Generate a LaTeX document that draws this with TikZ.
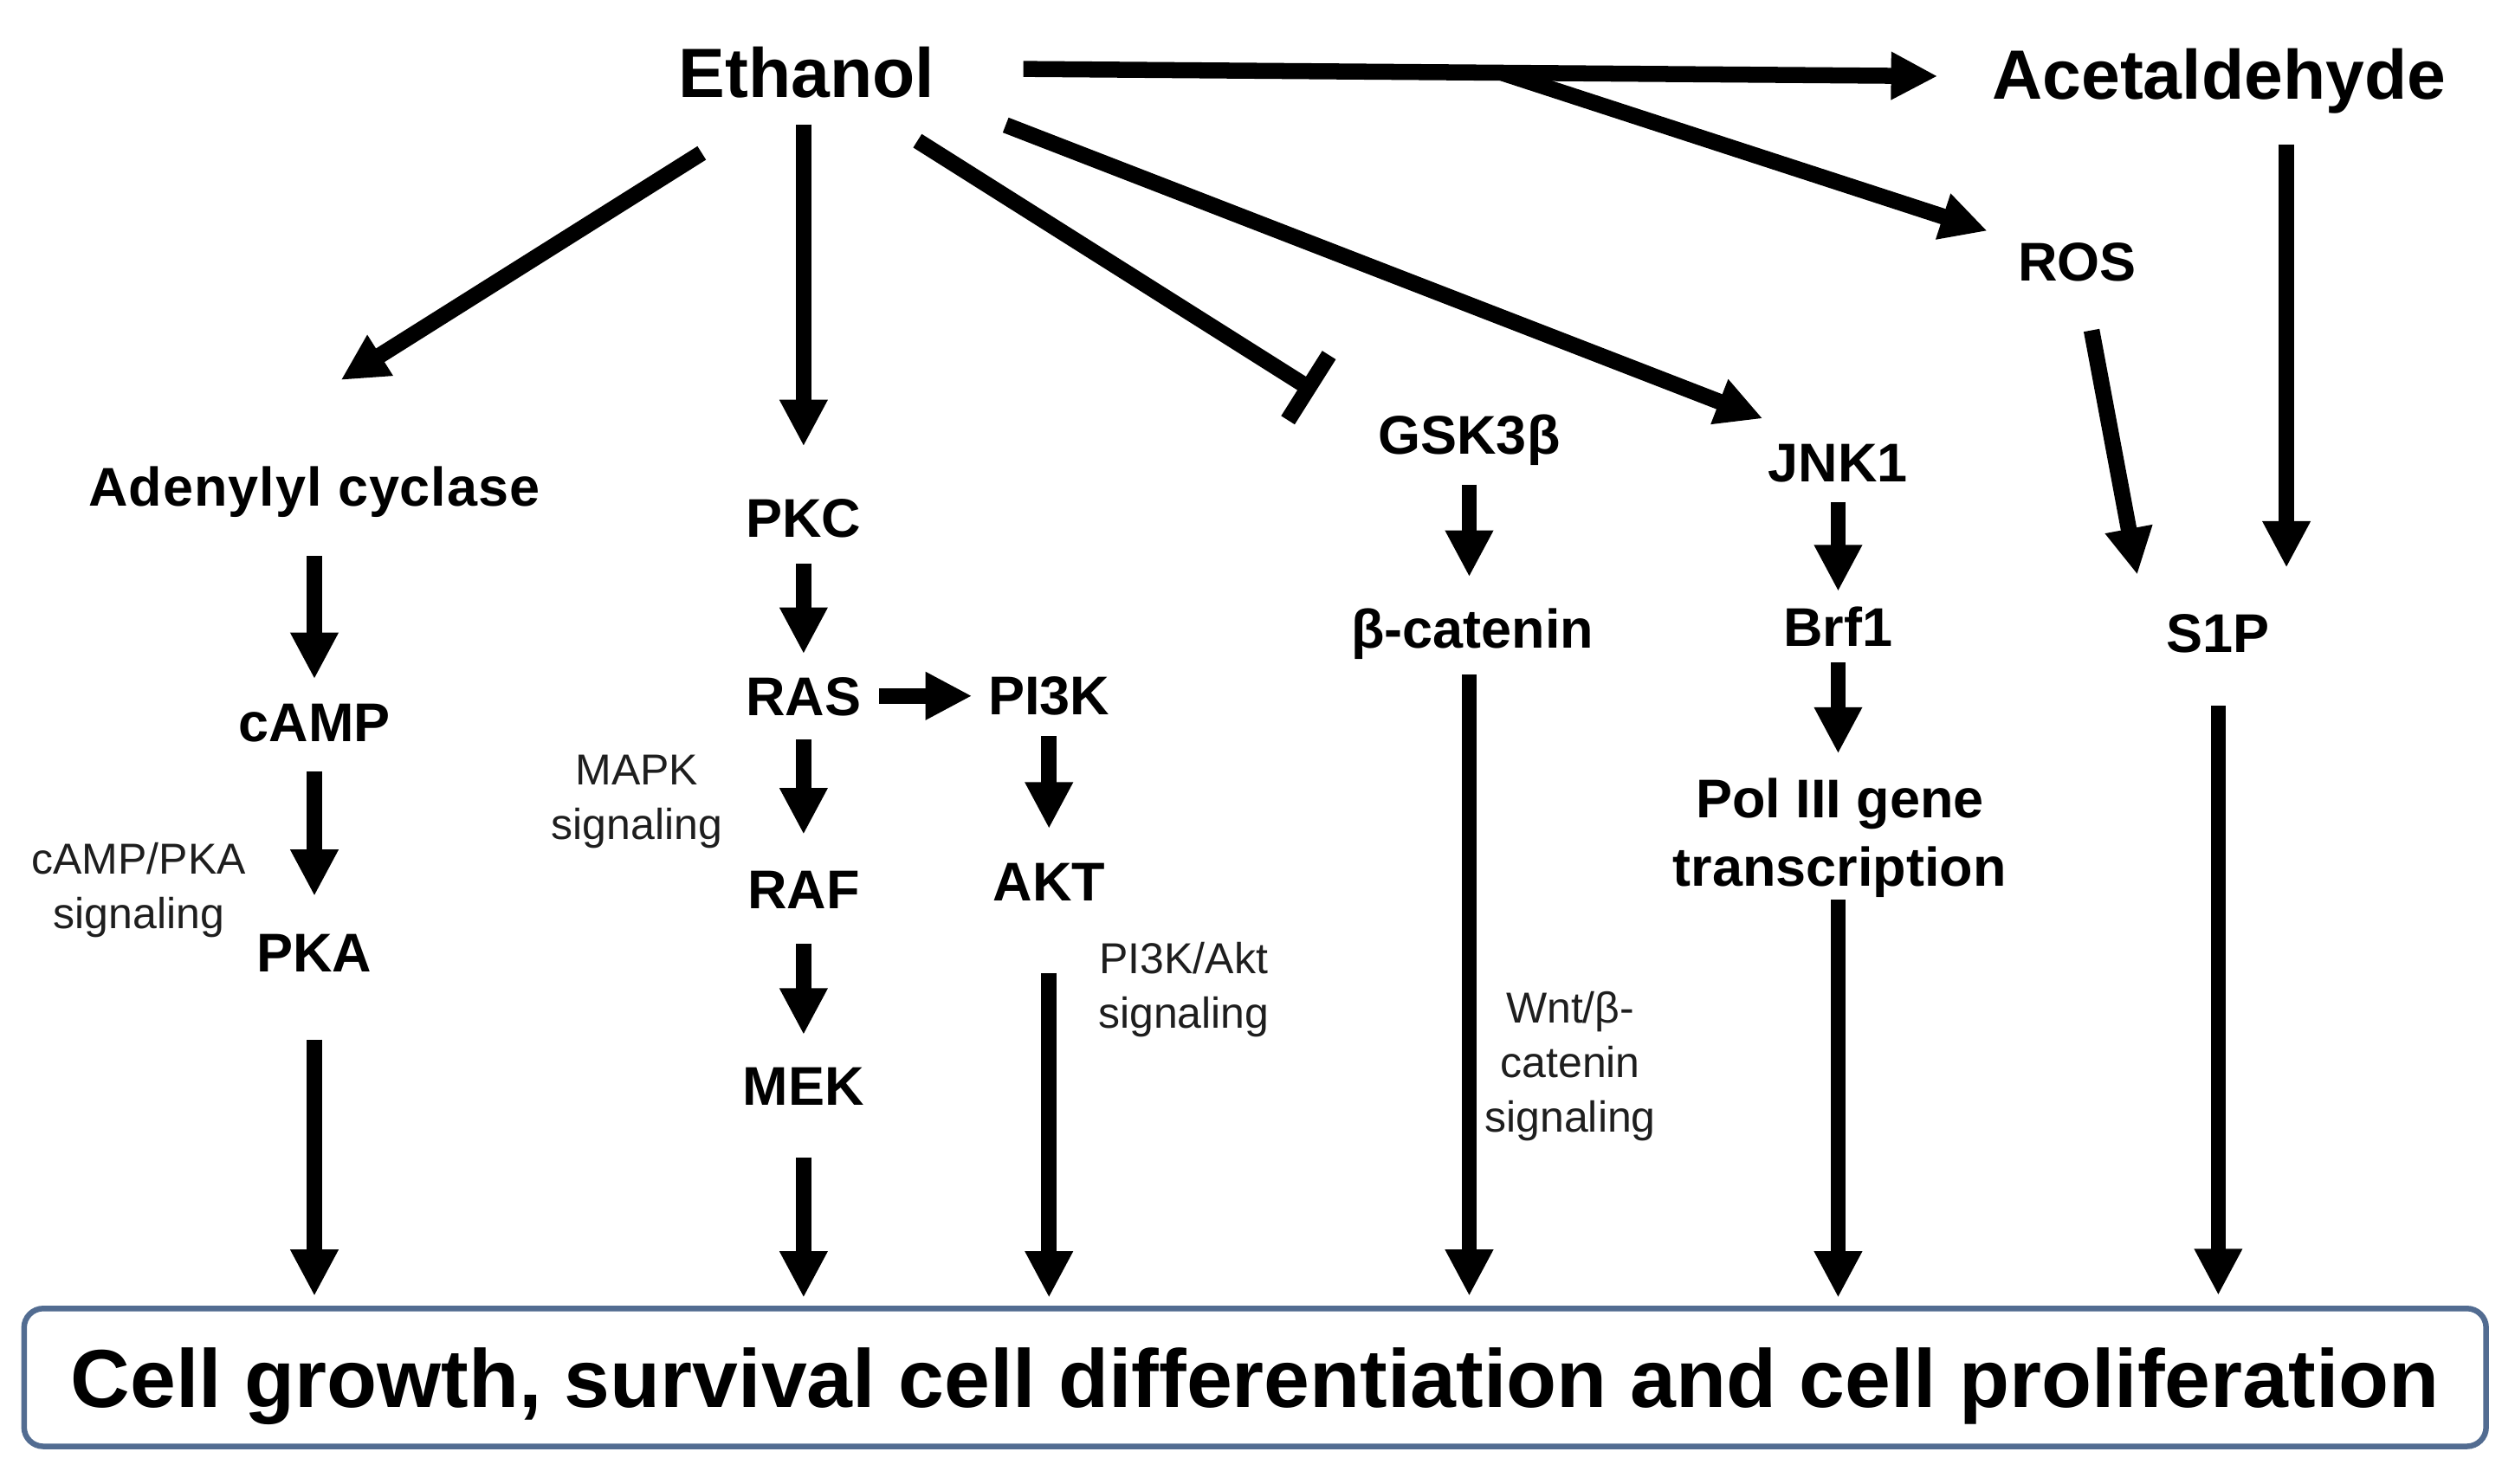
\documentclass[tikz,border=0pt]{standalone}
\usepackage{fontspec}
\setmainfont{Liberation Sans}
\usetikzlibrary{arrows.meta}
\definecolor{boxc}{RGB}{82,108,145}
\definecolor{sigc}{RGB}{30,30,30}
\begin{document}
\begin{tikzpicture}[x=1pt,y=-1pt,
  labfont/.style={font=\bfseries\fontsize{34}{43}\selectfont, inner sep=0pt},
  lab/.style={labfont, anchor=base, text height=24pt, text depth=0pt},
  bigl/.style={font=\bfseries\fontsize{43.5}{50}\selectfont, inner sep=0pt, anchor=base, text height=30pt, text depth=0pt},
  siglab/.style={font=\fontsize{27}{34}\selectfont, inner sep=0pt, anchor=north, align=center, text=sigc},
  arr/.style={line width=9.5pt, -{Triangle[width=28pt,length=29pt]}},
  darr/.style={line width=10pt, -{Triangle[width=28pt,length=29pt]}},
  inh/.style={line width=10pt, -{Bar[width=48pt]}}]
\useasboundingbox (0,0) rectangle (1568,925.4);
% main nodes
\node[bigl] (eth) at (503,61) {Ethanol};
\node[bigl] (acet) at (1383.5,62) {Acetaldehyde};
\node[lab] (ros) at (1295,175) {ROS};
\node[lab, font=\bfseries\fontsize{34}{43}\selectfont\addfontfeature{LetterSpace=1.5}] (adc) at (196,315.5) {Adenylyl cyclase};
\node[lab] (pkc) at (501,335.3) {PKC};
\node[lab] (gsk) at (916,283) {GSK3β};
\node[lab] (jnk) at (1146,300.7) {JNK1};
\node[lab] (camp) at (196,462.7) {cAMP};
\node[lab] (ras) at (501,446) {RAS};
\node[lab] (pi3k) at (654,445.5) {PI3K};
\node[lab] (bcat) at (918,404) {β-catenin};
\node[lab] (brf) at (1146,403) {Brf1};
\node[lab] (s1p) at (1383,407) {S1P};
\node[lab] (pka) at (196,606) {PKA};
\node[lab] (raf) at (501,566.6) {RAF};
\node[lab] (akt) at (654,562) {AKT};
\node[lab] (mek) at (501,689.5) {MEK};
\node[labfont, anchor=north, align=center] (pol) at (1147,485) {Pol III gene\\transcription};
% pathway labels
\node[siglab] (l1) at (86.5,525.4) {cAMP/PKA\\signaling};
\node[siglab] (l2) at (397,470.6) {MAPK\\signaling};
\node[siglab] (l3) at (738,587.3) {PI3K/Akt\\signaling};
\node[siglab] (l4) at (979,618.3) {Wnt/β-\\catenin\\signaling};
% outcome box
\node[draw=boxc, line width=3.5pt, rounded corners=12pt, fill=white,
      minimum width=1535pt, minimum height=86pt, inner sep=0pt,
      font=\bfseries\fontsize{51.3}{60}\selectfont, text height=37pt, text depth=0pt]
      (box) at (782.5,859) {Cell growth, survival cell differentiation and cell proliferation};
% connectors from Ethanol
\draw[darr] ([shift={(135,-18)}]eth.base) -- coordinate[pos=0.523] (br) ([shift={(-175.5,-14.5)}]acet.base);
\draw[darr] (br) -- ([shift={(-56,-31)}]ros.base);
\draw[darr] ([shift={(-65.5,34.4)}]eth.base) -- ([shift={(16.5,-78.5)}]adc.base);
\draw[darr] ([shift={(-2,16.6)}]eth.base) -- ([shift={(0,-57)}]pkc.base);
\draw[inh] ([shift={(69,26.8)}]eth.base) -- ([shift={(-96,-38.6)}]gsk.base);
\draw[darr] ([shift={(124,17)}]eth.base) -- ([shift={(-47,-39.7)}]jnk.base);
\draw[darr] ([shift={(9,31)}]ros.base) -- ([shift={(-50.5,-48.6)}]s1p.base);
\draw[darr] ([shift={(42,28)}]acet.base) -- ([shift={(42.5,-53)}]s1p.base);
% vertical cascades
\draw[arr, shorten <=31pt, shorten >=15pt] (adc.south) -- (adc.south |- camp.north);
\draw[arr, shorten <=18pt, shorten >=23pt] (camp.south) -- (camp.south |- pka.north);
\draw[arr, shorten <=42pt, shorten >=6pt] (pka.south) -- (pka.south |- box.north);
\draw[arr, shorten <=16pt, shorten >=14pt] (pkc.south) -- (pkc.south |- ras.north);
\draw[arr, shorten <=11pt, shorten >=10pt] (ras.east) -- (ras.east -| pi3k.west);
\draw[arr, shorten <=15pt, shorten >=22pt] (ras.south) -- (ras.south |- raf.north);
\draw[arr, shorten <=22pt, shorten >=20pt] (raf.south) -- (raf.south |- mek.north);
\draw[arr, shorten <=32pt, shorten >=5pt] (mek.south) -- (mek.south |- box.north);
\draw[arr, shorten <=13.5pt, shorten >=21pt] (pi3k.south) -- (pi3k.south |- akt.north);
\draw[arr, shorten <=44.6pt, shorten >=5pt] (akt.south) -- (akt.south |- box.north);
\draw[arr, shorten <=19pt, shorten >=20pt] (gsk.south) -- (gsk.south |- bcat.north);
\draw[arr, shorten <=16.6pt, shorten >=6pt] (gsk.south |- bcat.south) -- (gsk.south |- box.north);
\draw[arr, shorten <=12pt, shorten >=10pt] (jnk.south) -- (jnk.south |- brf.north);
\draw[arr, shorten <=10pt, shorten >=15pt] (brf.south) -- (brf.south |- pol.north);
\draw[arr, shorten <=1pt, shorten >=5pt] (brf.south |- pol.south) -- (brf.south |- box.north);
\draw[arr, shorten <=33pt, shorten >=6.5pt] (s1p.south) -- (s1p.south |- box.north);
\end{tikzpicture}
\end{document}
